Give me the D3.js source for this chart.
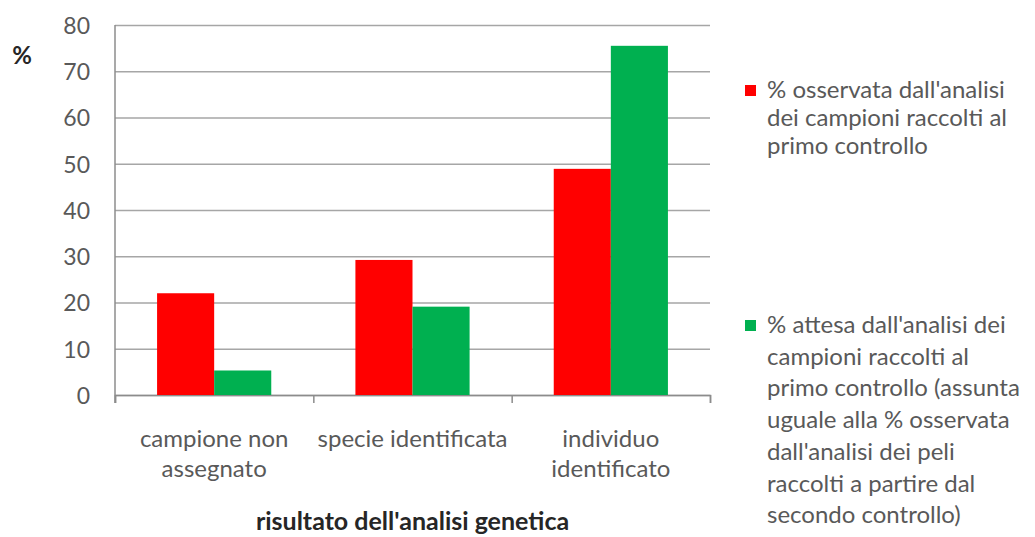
<!DOCTYPE html>
<html>
<head>
<meta charset="utf-8">
<script src="https://cdn.jsdelivr.net/npm/d3@7"></script>
<style>
  body { margin: 0; background: #fff; }
  text { font-family: Lato, "Open Sans", sans-serif; fill: #595959; }
</style>
</head>
<body>
<div id="graf"></div>
<script>
// Datos (%)
categorie = ['campione non assegnato', 'specie identificata', 'individuo identificato']
etichette = [['campione non', 'assegnato'], ['specie identificata'], ['individuo', 'identificato']]
serie = ['osservata', 'attesa']
osservata = [22, 29.2, 48.9]
attesa = [5.3, 19.1, 75.5]
yTicks = [0, 10, 20, 30, 40, 50, 60, 70, 80]
legenda = [
  ['% osservata dall\'analisi', 'dei campioni raccolti al', 'primo controllo'],
  ['% attesa dall\'analisi dei', 'campioni raccolti al', 'primo controllo (assunta', 'uguale alla % osservata', 'dall\'analisi dei peli', 'raccolti a partire dal', 'secondo controllo)']
]
titoloX = 'risultato dell\'analisi genetica'

// Configuración del canvas
ancho_total = 1035
alto_total = 537
margins = {top: 25, left: 115, right: 325, bottom: 142}
ancho = ancho_total - margins.left - margins.right
alto = alto_total - margins.top - margins.bottom

svg = d3.select('#graf').append('svg')
        .attr('width', ancho_total)
        .attr('height', alto_total)

g = svg.append('g')
       .attr('transform', `translate(${margins.left}, ${margins.top})`)

// -- Escaladores --
y = d3.scaleLinear().domain([0, 80]).range([alto, 0])
x0 = d3.scaleBand().domain(categorie).range([0, ancho]).padding(0)
x1 = d3.scaleBand().domain(serie).range([0, x0.bandwidth()])
       .paddingInner(0).paddingOuter(0.737)
xTicks = d3.scaleLinear().domain([0, categorie.length]).range([0, ancho])
color = d3.scaleOrdinal().domain(serie).range(['#ff0000', '#00b050'])

// -- Eje Y con líneas de cuadrícula --
yAx = g.append('g').call(d3.axisLeft(y).tickValues(yTicks).tickSize(10).tickSizeOuter(0))
yAx.select('.domain').remove()
yAx.selectAll('.tick line').attr('x2', ancho).attr('stroke', '#a6a6a6').attr('stroke-width', 1.5)
yAx.selectAll('.tick text').attr('x', -25).attr('dy', '0.36em')
   .style('font-size', '23px').style('font-family', 'Lato')

// eje vertical
g.append('line')
 .attr('x1', 0).attr('x2', 0).attr('y1', 0).attr('y2', alto + 8)
 .attr('stroke', '#8c8c8c').attr('stroke-width', 1.5)

// -- Eje X (marcas entre categorías) --
xAx = g.append('g').attr('transform', `translate(0, ${alto})`)
       .call(d3.axisBottom(xTicks).ticks(categorie.length).tickSize(8).tickFormat(''))
xAx.select('.domain').attr('stroke', '#8c8c8c').attr('stroke-width', 1.5)
xAx.selectAll('.tick line').attr('stroke', '#8c8c8c').attr('stroke-width', 1.5)

// -- Barras --
datos = categorie.map((c, i) => ({cat: c, valori: [
  {s: 'osservata', v: osservata[i]},
  {s: 'attesa', v: attesa[i]}
]}))

gruppi = g.selectAll('g.cat').data(datos).enter()
          .append('g').attr('class', 'cat')
          .attr('transform', d => `translate(${x0(d.cat)}, 0)`)
gruppi.selectAll('rect').data(d => d.valori).enter()
      .append('rect')
      .attr('x', d => x1(d.s))
      .attr('width', x1.bandwidth())
      .attr('y', d => y(d.v))
      .attr('height', d => alto - y(d.v))
      .attr('fill', d => color(d.s))

// -- Etiquetas de categoría --
lab = g.selectAll('text.cat').data(categorie).enter()
       .append('text').attr('class', 'cat')
       .attr('text-anchor', 'middle')
       .attr('transform', d => `translate(${x0(d) + x0.bandwidth() / 2}, ${alto + 52})`)
       .style('font-size', '24px')
lab.selectAll('tspan').data((d, i) => etichette[i]).enter()
   .append('tspan').attr('x', 0).attr('dy', (d, i) => i == 0 ? 0 : 30)
   .text(d => d)

// Título eje X
g.append('text')
 .attr('x', ancho / 2).attr('y', alto + 135)
 .attr('text-anchor', 'middle')
 .style('font-size', '25px').style('font-weight', 'bold').style('fill', '#262626')
 .text(titoloX)

// Etiqueta %
svg.append('text')
   .attr('x', 22).attr('y', 64)
   .attr('text-anchor', 'middle')
   .style('font-size', '24px').style('font-weight', 'bold').style('fill', '#262626')
   .text('%')

// -- Leyenda --
legY = [98, 333]
legPaso = [28, 31.7]
leg = svg.selectAll('g.leg').data(serie).enter()
         .append('g').attr('class', 'leg')
         .attr('transform', (d, i) => `translate(745, ${legY[i]})`)
leg.append('rect')
   .attr('x', 0).attr('y', -13).attr('width', 11).attr('height', 11)
   .attr('fill', d => color(d))
legTxt = leg.append('text').attr('x', 22).attr('y', 0).style('font-size', '24px')
legTxt.selectAll('tspan').data((d, i) => legenda[i].map(t => ({t: t, i: i}))).enter()
      .append('tspan').attr('x', 22)
      .attr('dy', (d, j) => j == 0 ? 0 : legPaso[d.i])
      .text(d => d.t)
</script>
</body>
</html>
